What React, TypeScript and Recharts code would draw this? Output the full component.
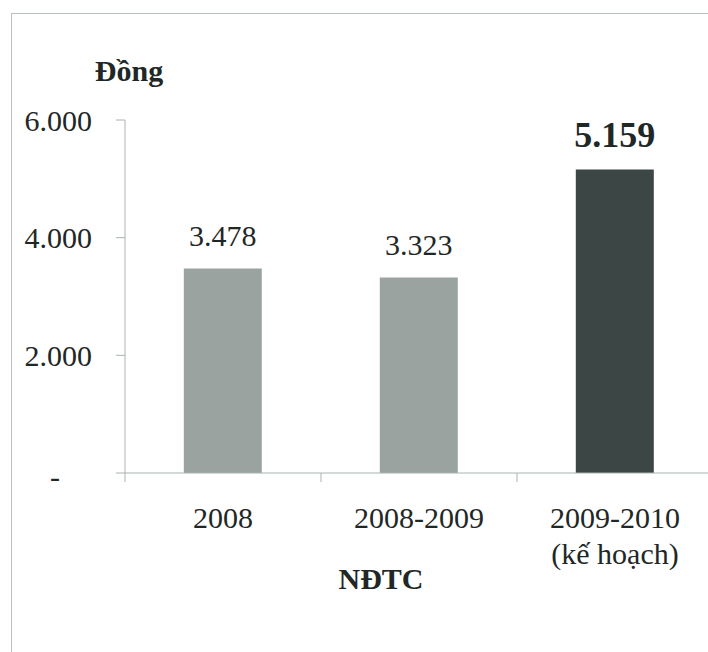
import React from 'react';
import { BarChart, Bar, XAxis, YAxis, Cell, LabelList, Label } from 'recharts';

const categories = ['2008', '2008-2009', '2009-2010\n(kế hoạch)'];
const values = [3478, 3323, 5159];
const barColors = ['#9ba3a0', '#9ba3a0', '#3c4745'];
const yTicks = [0, 2000, 4000, 6000];
const yTitle = 'Đồng';
const xTitle = 'NĐTC';

const data = categories.map((name, i) => ({ name, value: values[i] }));

const FONT = '"Liberation Serif", "Times New Roman", serif';
const TEXT = '#1f2826';
const AXIS = '#aab3b1';
const W = 716;
const H = 652;
const M = { top: 120, right: 3, left: 0, bottom: 79 };
const YW = 125;
const HALF_BAND = (W - M.left - M.right - YW) / categories.length / 2;

const fmt = (v: number) =>
  v === 0 ? '-' : String(v).replace(/\B(?=(\d{3})+(?!\d))/g, '.');

const YTick = (props: any) => {
  const { x, y, payload } = props;
  const zero = payload.value === 0;
  return (
    <text
      x={zero ? x - 32 : x}
      y={y}
      dy={zero ? '0.45em' : '0.35em'}
      textAnchor="end"
      fontSize={30}
      fontFamily={FONT}
      fill={TEXT}
    >
      {fmt(payload.value)}
    </text>
  );
};

const XTick = (props: any) => {
  const { x, y, payload } = props;
  const lines = String(payload.value).split('\n');
  return (
    <g>
      <line x1={x - HALF_BAND} x2={x - HALF_BAND} y1={y} y2={y + 9} stroke={AXIS} />
      {lines.map((l, i) => (
        <text
          key={i}
          x={x}
          y={y + 55 + i * 36}
          textAnchor="middle"
          fontSize={30}
          fontFamily={FONT}
          fill={TEXT}
        >
          {l}
        </text>
      ))}
    </g>
  );
};

const BarLabel = (props: any) => {
  const { x, y, width, value, index } = props;
  const big = index === values.length - 1;
  return (
    <text
      x={Number(x) + Number(width) / 2}
      y={Number(y) - 22}
      textAnchor="middle"
      fontSize={big ? 36 : 30}
      fontWeight={big ? 'bold' : 'normal'}
      fontFamily={FONT}
      fill={TEXT}
    >
      {fmt(Number(value))}
    </text>
  );
};

export default function App() {
  return (
    <div
      style={{
        position: 'absolute',
        left: 0,
        top: 0,
        width: 708,
        height: 652,
        overflow: 'hidden',
        background: '#ffffff',
      }}
    >
      <div
        style={{
          position: 'absolute',
          left: 11,
          top: 13,
          width: 720,
          height: 660,
          borderTop: '1px solid #b9c1c0',
          borderLeft: '1px solid #b9c1c0',
        }}
      />
      <div style={{ position: 'absolute', left: 0, top: 0 }}>
        <BarChart width={W} height={H} data={data} margin={M} barCategoryGap="30%">
          <XAxis
            dataKey="name"
            axisLine={{ stroke: AXIS }}
            tickLine={false}
            tickSize={0}
            tickMargin={0}
            tick={<XTick />}
            height={100}
            interval={0}
          >
            <Label
              content={(p: any) => {
                const vb = p.viewBox || {};
                return (
                  <text
                    x={vb.x + 256}
                    y={vb.y + 116}
                    textAnchor="middle"
                    fontSize={30}
                    fontWeight="bold"
                    fontFamily={FONT}
                    fill={TEXT}
                  >
                    {xTitle}
                  </text>
                );
              }}
            />
          </XAxis>
          <YAxis
            width={YW}
            domain={[0, 6000]}
            ticks={yTicks}
            interval={0}
            axisLine={{ stroke: AXIS }}
            tickLine={{ stroke: AXIS }}
            tickSize={9}
            tickMargin={24}
            tick={<YTick />}
          >
            <Label
              content={(p: any) => {
                const vb = p.viewBox || {};
                return (
                  <text
                    x={vb.x + vb.width + 4}
                    y={vb.y - 39}
                    textAnchor="middle"
                    fontSize={30}
                    fontWeight="bold"
                    fontFamily={FONT}
                    fill={TEXT}
                  >
                    {yTitle}
                  </text>
                );
              }}
            />
          </YAxis>
          <Bar dataKey="value" isAnimationActive={false}>
            {data.map((d, i) => (
              <Cell key={d.name} fill={barColors[i]} />
            ))}
            <LabelList dataKey="value" content={<BarLabel />} />
          </Bar>
        </BarChart>
      </div>
    </div>
  );
}
